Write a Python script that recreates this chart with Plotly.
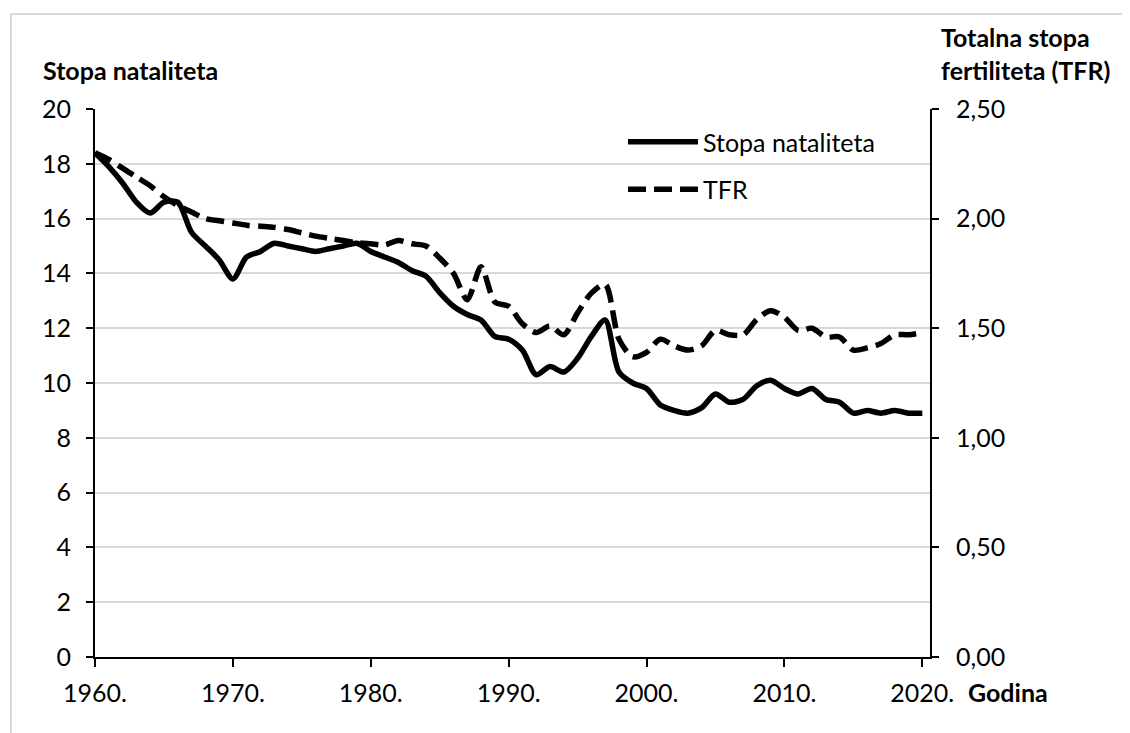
import plotly.graph_objects as go

years = list(range(1960, 2021))
birth_rate = [18.4, 17.9, 17.3, 16.6, 16.2, 16.6, 16.6, 15.5, 15.0, 14.5,
              13.8, 14.6, 14.8, 15.1, 15.0, 14.9, 14.8, 14.9, 15.0, 15.1,
              14.8, 14.6, 14.4, 14.1, 13.9, 13.3, 12.8, 12.5, 12.3, 11.7,
              11.6, 11.2, 10.3, 10.6, 10.4, 10.9, 11.7, 12.3, 10.4, 10.0,
              9.8, 9.2, 9.0, 8.9, 9.1, 9.6, 9.3, 9.4, 9.9, 10.1,
              9.8, 9.6, 9.8, 9.4, 9.3, 8.9, 9.0, 8.9, 9.0, 8.9,
              8.9]
tfr = [2.30, 2.27, 2.23, 2.19, 2.15, 2.10, 2.06, 2.03, 2.00, 1.99,
       1.98, 1.97, 1.965, 1.96, 1.95, 1.935, 1.92, 1.91, 1.90, 1.89,
       1.885, 1.88, 1.90, 1.885, 1.875, 1.82, 1.75, 1.63, 1.78, 1.62,
       1.60, 1.52, 1.48, 1.51, 1.47, 1.57, 1.66, 1.70, 1.45, 1.37,
       1.39, 1.45, 1.42, 1.40, 1.42, 1.49, 1.47, 1.47, 1.54, 1.58,
       1.55, 1.49, 1.50, 1.46, 1.46, 1.40, 1.41, 1.43, 1.47, 1.47,
       1.48]

x_tickvals = [1960, 1970, 1980, 1990, 2000, 2010, 2020]
x_ticktext = ["1960.", "1970.", "1980.", "1990.", "2000.", "2010.", "2020."]
y2_tickvals = [0, 0.5, 1.0, 1.5, 2.0, 2.5]
y2_ticktext = ["0,00", "0,50", "1,00", "1,50", "2,00", "2,50"]

FONT = "Lato"
FS = 25
OFF = 8  # page body margin
W, H = 1130 - OFF, 733 - OFF
# plot area in screen pixels: x 95..930, y 109..657
ML = 95 - OFF
MT = 109 - OFF
MR = W - (930 - OFF)
MB = H - (657 - OFF)
PW, PH = W - ML - MR, H - MT - MB


def px(x):
    return (x - OFF - ML) / PW


def py(y):
    return (H - MB - (y - OFF)) / PH


fig = go.Figure()
fig.add_trace(go.Scatter(
    x=years, y=birth_rate, name="Stopa nataliteta", mode="lines",
    line=dict(color="black", width=5.5, shape="spline", smoothing=0.8),
    legendgroup="a",
))
fig.add_trace(go.Scatter(
    x=years, y=tfr, name="TFR", mode="lines", yaxis="y2",
    line=dict(color="black", width=5.5, shape="spline", smoothing=0.8,
              dash="18px,8px"),
    legendgroup="b",
))

fig.update_layout(
    width=W, height=H,
    margin=dict(l=ML, r=MR, t=MT, b=MB, autoexpand=False),
    paper_bgcolor="white", plot_bgcolor="white",
    font=dict(family=FONT, size=FS, color="black"),
    xaxis=dict(
        range=[1960, 2020.56], tickvals=x_tickvals, ticktext=x_ticktext,
        showgrid=False, zeroline=False, showline=True, linecolor="black",
        linewidth=2, ticks="outside", ticklen=8, tickwidth=2,
        tickcolor="black", ticklabelstandoff=5,
    ),
    yaxis=dict(
        range=[0, 20], dtick=2, tick0=0, showgrid=True, gridcolor="#d9d9d9",
        gridwidth=2, zeroline=False, showline=True, linecolor="black",
        linewidth=2, ticks="outside", ticklen=7, tickwidth=2,
        tickcolor="black", ticklabelstandoff=10,
    ),
    yaxis2=dict(
        range=[0, 2.5], overlaying="y", side="right",
        tickvals=y2_tickvals, ticktext=y2_ticktext, showgrid=False,
        zeroline=False, showline=True, linecolor="black", linewidth=2,
        ticks="outside", ticklen=7, tickwidth=2, tickcolor="black",
        ticklabelstandoff=12,
    ),
    showlegend=True,
    legend=dict(
        x=px(623), y=py(119), xanchor="left", yanchor="top",
        bgcolor="rgba(0,0,0,0)", font=dict(family=FONT, size=FS, color="black"),
        itemwidth=70, traceorder="grouped", tracegroupgap=12,
    ),
    shapes=[dict(
        type="rect", xref="paper", yref="paper",
        x0=px(11), x1=px(1145), y0=py(745), y1=py(14),
        line=dict(color="#d9d9d9", width=2), layer="below",
    )],
    annotations=[
        dict(text="<b>Stopa nataliteta</b>", xref="paper", yref="paper",
             x=px(41), y=py(70), xanchor="left", yanchor="middle",
             showarrow=False, font=dict(family=FONT, size=FS, color="black")),
        dict(text="<b>Totalna stopa<br>fertiliteta (TFR)</b>", xref="paper",
             yref="paper", x=px(939), y=py(54), xanchor="left",
             yanchor="middle", align="left", showarrow=False,
             font=dict(family=FONT, size=FS, color="black")),
        dict(text="<b>Godina</b>", xref="paper", yref="paper",
             x=px(966), y=py(692), xanchor="left", yanchor="middle",
             showarrow=False, font=dict(family=FONT, size=FS, color="black")),
    ],
)

fig.write_html("out.html")
